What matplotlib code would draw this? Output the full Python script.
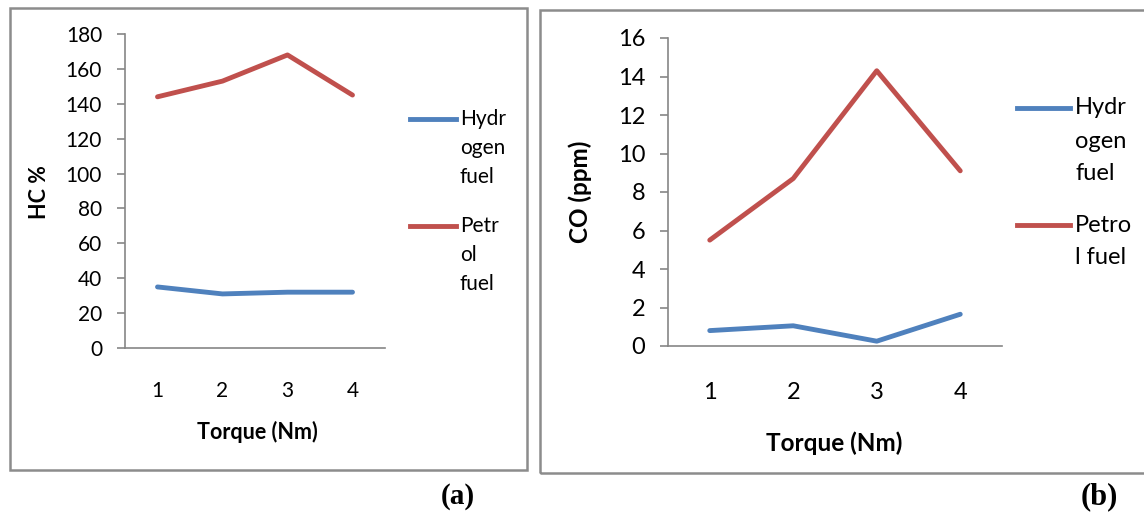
import matplotlib
matplotlib.use('Agg')
import matplotlib.pyplot as plt
from matplotlib.patches import Rectangle
from matplotlib.lines import Line2D

plt.rcParams['font.family'] = ['Lato', 'DejaVu Sans']

# Data
torque = [1, 2, 3, 4]
hc_hydrogen = [35, 31, 32, 32]
hc_petrol = [144, 153, 168, 145]
co_hydrogen = [0.8, 1.05, 0.25, 1.65]
co_petrol = [5.5, 8.7, 14.3, 9.1]

BLUE = '#4F81BD'
RED = '#C0504D'
AXC = '#868686'
W, H = 1144, 516

fig = plt.figure(figsize=(W / 100, H / 100), dpi=100)


def px(x, y):
    return x / W, 1 - y / H


def box(x0, y0, x1, y1):
    fig.patches.append(Rectangle(px(x0, y1), (x1 - x0) / W, (y1 - y0) / H,
                                 transform=fig.transFigure, fill=False,
                                 edgecolor='#8c8c8c', lw=1.8))


def make_axes(x0, y0, x1, y1, hyd, pet, ymax, ystep, fs, pad):
    l, b = px(x0, y1)
    ax = fig.add_axes([l, b, (x1 - x0) / W, (y1 - y0) / H])
    ax.plot(torque, hyd, color=BLUE, lw=3.5, solid_capstyle='round')
    ax.plot(torque, pet, color=RED, lw=3.5, solid_capstyle='round')
    ax.set_xlim(0.5, 4.5)
    ax.set_ylim(0, ymax)
    ax.set_xticks(torque)
    ax.set_yticks(range(0, ymax + 1, ystep))
    for s in ['top', 'right']:
        ax.spines[s].set_visible(False)
    for s in ['left', 'bottom']:
        ax.spines[s].set_color(AXC)
        ax.spines[s].set_linewidth(1.2)
    ax.tick_params(axis='y', length=5.5, width=1.2, color=AXC, labelsize=fs, pad=11)
    ax.tick_params(axis='x', length=0, labelsize=fs, pad=pad)
    ax.patch.set_alpha(0)
    return ax


def legend(x0, x1, x_text, y_h, y_p, lines_h, lines_p, step, fs):
    for y, col, lines in [(y_h, BLUE, lines_h), (y_p, RED, lines_p)]:
        a, yy = px(x0, y)
        bb, _ = px(x1, y)
        fig.lines.append(Line2D([a, bb], [yy, yy], transform=fig.transFigure,
                                color=col, lw=3.5))
        for i, t in enumerate(lines):
            fig.text(*px(x_text, y + i * step), t, fontsize=fs, va='center', ha='left')


# Panel (a)
box(10, 8, 527, 470)
make_axes(125, 34, 385, 348, hc_hydrogen, hc_petrol, 180, 20, 15, 24)
fig.text(*px(39, 192), 'HC %', rotation=90, fontsize=15.5, fontweight='bold',
         ha='center', va='center')
fig.text(*px(257, 432), 'Torque (Nm)', fontsize=15.5, fontweight='bold',
         ha='center', va='center')
legend(410, 456, 460, 119, 226, ['Hydr', 'ogen', 'fuel'], ['Petr', 'ol', 'fuel'], 29, 15)
fig.text(*px(458, 497), '(a)', fontsize=21, fontweight='bold',
         family='Liberation Serif', ha='center', va='center')

# Panel (b)
box(540, 10, 1160, 473)
make_axes(668, 38, 1002, 346, co_hydrogen, co_petrol, 16, 2, 17, 26)
fig.text(*px(580, 192), 'CO (ppm)', rotation=90, fontsize=17.5, fontweight='bold',
         ha='center', va='center')
fig.text(*px(834, 443), 'Torque (Nm)', fontsize=17.5, fontweight='bold',
         ha='center', va='center')
legend(1017, 1070, 1075, 108, 225, ['Hydr', 'ogen', 'fuel'], ['Petro', 'l fuel'], 33, 17)
fig.text(*px(1099, 497), '(b)', fontsize=22, fontweight='bold',
         family='Liberation Serif', ha='center', va='center')

fig.savefig('out.png', dpi=100)
